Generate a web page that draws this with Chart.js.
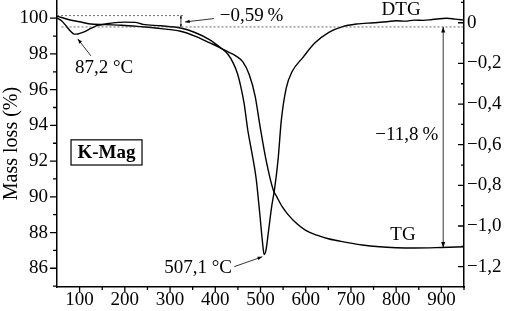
<!DOCTYPE html>
<html lang="en">
<head>
<meta charset="UTF-8">
<script src="https://cdn.jsdelivr.net/npm/chart.js@4.4.1/dist/chart.umd.min.js"></script>
<title>K-Mag TG / DTG</title>
<style>
  html, body { margin: 0; padding: 0; background: #fff; }
</style>
</head>
<body>
<canvas id="chart" width="505" height="311"></canvas>
<script>
// TG curve (mass %, left axis)
const tgTemp = [50, 60, 75, 100, 120, 156, 193, 234, 280, 323, 355, 388, 410, 428, 446, 461, 475, 488, 499, 512, 528, 536, 548, 561, 580, 600, 625, 650, 690, 725, 763, 800, 840, 900, 950];
const tgMass = [100.11, 100.04, 99.93, 99.80, 99.69, 99.64, 99.61, 99.53, 99.42, 99.27, 99.0, 98.62, 98.36, 98.12, 97.88, 97.55, 96.85, 95.65, 93.95, 92.1, 90.4, 90.0, 89.45, 89.0, 88.5, 88.12, 87.85, 87.65, 87.45, 87.3, 87.2, 87.15, 87.13, 87.16, 87.2];

// DTG curve (right axis)
const dtgTemp = [50, 60, 70, 80, 88, 96, 110, 125, 140, 170, 200, 223, 240, 280, 323, 355, 388, 410, 428, 440, 449, 457, 464, 472, 481, 490, 498, 504, 508, 512, 518, 525, 531, 539, 546, 557, 570, 594, 620, 652, 680, 712, 750, 780, 800, 820, 840, 860, 880, 912, 930, 950];
const dtgRate = [0.023, 0.01, -0.015, -0.042, -0.056, -0.055, -0.045, -0.028, -0.013, -0.002, 0.003, 0.002, -0.008, -0.015, -0.026, -0.048, -0.084, -0.12, -0.155, -0.2, -0.25, -0.32, -0.40, -0.53, -0.64, -0.76, -0.93, -1.07, -1.14, -1.12, -1.02, -0.9, -0.82, -0.67, -0.48, -0.32, -0.24, -0.17, -0.1, -0.046, -0.02, -0.006, 0, 0.005, 0.01, 0.008, 0.013, 0.012, 0.016, 0.022, 0.018, 0.013];

// tick values
const xMajor = [100, 200, 300, 400, 500, 600, 700, 800, 900];
const xMinor = [150, 250, 350, 450, 550, 650, 750, 850, 950];
const yMajor = [86, 88, 90, 92, 94, 96, 98, 100];
const yMinor = [85, 87, 89, 91, 93, 95, 97, 99];
const y1Major = [0, -0.2, -0.4, -0.6, -0.8, -1.0, -1.2];
const y1Minor = [0.1, -0.1, -0.3, -0.5, -0.7, -0.9, -1.1];

const FONT = '"Liberation Serif", "Times New Roman", serif';

function pts(xs, ys) { return xs.map((t, i) => ({x: t, y: ys[i]})); }
function fmt(v) {
  if (Math.abs(v) < 1e-9) return '0';
  return v.toFixed(1).replace('.', ',').replace('-', '\u2212');
}

function arrowHead(ctx, x1, y1, x2, y2, size) {
  const ang = Math.atan2(y2 - y1, x2 - x1);
  ctx.beginPath();
  ctx.moveTo(x2, y2);
  ctx.lineTo(x2 - size * Math.cos(ang - 0.35), y2 - size * Math.sin(ang - 0.35));
  ctx.lineTo(x2 - size * Math.cos(ang + 0.35), y2 - size * Math.sin(ang + 0.35));
  ctx.closePath();
  ctx.fill();
}
function arrow(ctx, x1, y1, x2, y2, size, both) {
  ctx.beginPath();
  ctx.moveTo(x1, y1);
  ctx.lineTo(x2, y2);
  ctx.stroke();
  arrowHead(ctx, x1, y1, x2, y2, size);
  if (both) arrowHead(ctx, x2, y2, x1, y1, size);
}

const deco = {
  id: 'deco',
  afterDraw(chart) {
    const {ctx, chartArea: a, scales} = chart;
    const X = v => scales.x.getPixelForValue(v);
    const Y = v => scales.y.getPixelForValue(v);
    const R = v => scales.y1.getPixelForValue(v);
    ctx.save();
    ctx.strokeStyle = '#000';
    ctx.fillStyle = '#000';
    ctx.lineWidth = 1.3;
    ctx.beginPath();
    xMajor.forEach(v => { ctx.moveTo(X(v), a.bottom); ctx.lineTo(X(v), a.bottom + 5); });
    xMinor.forEach(v => { ctx.moveTo(X(v), a.bottom); ctx.lineTo(X(v), a.bottom + 3); });
    yMajor.forEach(v => { ctx.moveTo(a.left, Y(v)); ctx.lineTo(a.left - 7, Y(v)); });
    yMinor.forEach(v => { ctx.moveTo(a.left, Y(v)); ctx.lineTo(a.left - 4, Y(v)); });
    y1Major.forEach(v => { ctx.moveTo(a.right, R(v)); ctx.lineTo(a.right - 6, R(v)); });
    y1Minor.forEach(v => { ctx.moveTo(a.right, R(v)); ctx.lineTo(a.right - 3, R(v)); });
    ctx.stroke();

    // dotted reference levels
    ctx.save();
    ctx.setLineDash([2, 2]);
    ctx.lineWidth = 0.8;
    ctx.strokeStyle = '#444';
    ctx.beginPath();
    ctx.moveTo(X(50), Y(100.146)); ctx.lineTo(X(329), Y(100.146));
    ctx.moveTo(X(60), Y(99.51)); ctx.lineTo(X(950), Y(99.51));
    ctx.stroke();
    ctx.restore();

    ctx.lineWidth = 0.8;
    arrow(ctx, X(324), Y(100.146), X(324), Y(99.51), 3, true);
    arrow(ctx, X(397), Y(99.98), X(333), Y(99.79), 5, false);
    arrow(ctx, X(904), Y(99.51), X(904), Y(87.16), 6, true);
    arrow(ctx, X(125), Y(97.89), X(96), Y(98.84), 5, false);
    arrow(ctx, X(442), Y(86.09), X(504), Y(86.64), 5, false);

    ctx.font = '19px ' + FONT;
    ctx.textBaseline = 'middle';
    ctx.textAlign = 'center';
    ctx.fillText('87,2 \u00b0C', X(154), Y(97.22));
    ctx.fillText('DTG', X(811), Y(100.46));
    ctx.fillText('TG', X(815), Y(87.87));
    ctx.textAlign = 'left';
    ctx.fillText('\u22120,59\u2009%', X(410), Y(100.13));
    ctx.textAlign = 'right';
    ctx.fillText('\u221211,8\u2009%', X(893), Y(93.47));
    ctx.fillText('507,1 \u00b0C', X(437), Y(86.03));

    // sample label box
    ctx.lineWidth = 1.2;
    ctx.strokeRect(X(81), Y(93.19), X(238) - X(81), Y(91.78) - Y(93.19));
    ctx.font = 'bold 19px ' + FONT;
    ctx.textAlign = 'center';
    ctx.fillText('K-Mag', (X(81) + X(238)) / 2, (Y(93.19) + Y(91.78)) / 2 + 1);
    ctx.restore();
  }
};

const tickFont = {family: FONT, size: 19};
const noPadV = s => { s.paddingTop = 0; s.paddingBottom = 0; };
const noPadH = s => { s.paddingLeft = 0; s.paddingRight = 0; };

new Chart(document.getElementById('chart'), {
  type: 'line',
  data: {
    datasets: [
      {label: 'TG', data: pts(tgTemp, tgMass), yAxisID: 'y', borderColor: '#000', borderWidth: 1.4,
       pointRadius: 0, fill: false, cubicInterpolationMode: 'monotone'},
      {label: 'DTG', data: pts(dtgTemp, dtgRate), yAxisID: 'y1', borderColor: '#000', borderWidth: 1.4,
       pointRadius: 0, fill: false, cubicInterpolationMode: 'monotone'}
    ]
  },
  options: {
    responsive: false,
    animation: false,
    devicePixelRatio: 1,
    layout: {padding: 0},
    plugins: {legend: {display: false}, tooltip: {enabled: false}},
    scales: {
      x: {
        type: 'linear', position: 'bottom', min: 50, max: 950,
        afterBuildTicks: s => { s.ticks = xMajor.map(v => ({value: v})); },
        afterFit: s => { s.height = 24; noPadH(s); },
        grid: {display: false, drawTicks: false},
        border: {display: true, color: '#000', width: 1.5},
        ticks: {font: tickFont, color: '#000', padding: 2, maxRotation: 0, autoSkip: false}
      },
      y: {
        type: 'linear', position: 'left', min: 84.95, max: 101.02,
        afterBuildTicks: s => { s.ticks = yMajor.map(v => ({value: v})); },
        afterFit: s => { s.width = 57; noPadV(s); },
        grid: {display: false, drawTicks: false},
        border: {display: true, color: '#000', width: 1.5},
        ticks: {font: tickFont, color: '#000', padding: 9, autoSkip: false},
        title: {display: true, text: 'Mass loss (%)', font: {family: FONT, size: 20}, color: '#000', padding: 0}
      },
      y1: {
        type: 'linear', position: 'right', min: -1.30, max: 0.112,
        afterBuildTicks: s => { s.ticks = y1Major.map(v => ({value: v})); },
        afterFit: s => { s.width = 41; noPadV(s); },
        grid: {display: false, drawTicks: false},
        border: {display: true, color: '#000', width: 1.5},
        ticks: {font: tickFont, color: '#000', padding: 3, autoSkip: false, callback: v => fmt(v)}
      }
    }
  },
  plugins: [deco]
});
</script>
</body>
</html>
